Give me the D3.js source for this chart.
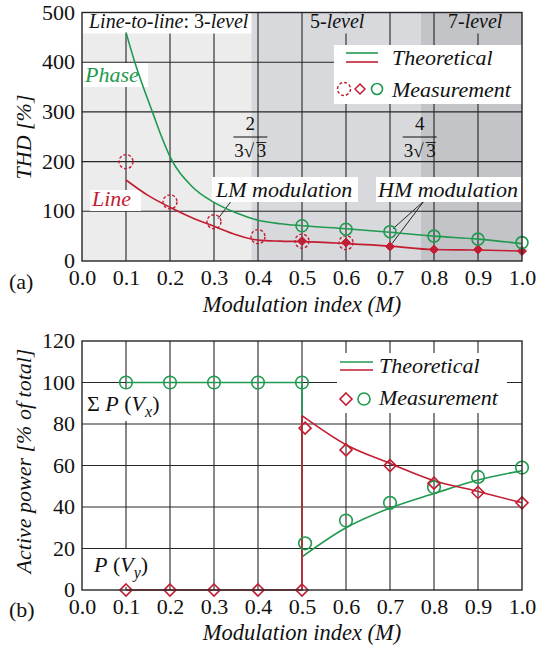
<!DOCTYPE html>
<html>
<head>
<meta charset="UTF-8">
<title>THD and active power vs modulation index</title>
<script src="https://d3js.org/d3.v7.min.js"></script>
<style>
    body { margin: 0; background: #fff; }
    text { font-family: "Liberation Serif", "Times New Roman", serif; fill: #111; }
</style>
</head>
<body>
<script>
// ---- data ----
const mTicks = [0.0, 0.1, 0.2, 0.3, 0.4, 0.5, 0.6, 0.7, 0.8, 0.9, 1.0];

// (a) THD [%]
const thdTicks = [0, 100, 200, 300, 400, 500];
const phaseTheoryM = [0.1, 0.12, 0.14, 0.16, 0.18, 0.2, 0.25, 0.3, 0.35, 0.4, 0.45, 0.5, 0.6, 0.7, 0.8, 0.9, 1.0];
const phaseTheory  = [460, 400, 348, 300, 252, 210, 150, 118, 97, 82, 75, 71, 65, 58, 50, 44, 35];
const lineTheoryM  = [0.1, 0.15, 0.2, 0.25, 0.3, 0.35, 0.4, 0.45, 0.5, 0.6, 0.7, 0.8, 0.9, 1.0];
const lineTheory   = [163, 132, 108, 87, 70, 53, 42, 40, 39, 35, 30, 23, 22, 20];
const lineMeasLM_M = [0.1, 0.2, 0.3, 0.4, 0.5, 0.6];
const lineMeasLM   = [200, 119, 79, 49, 40, 37];
const lineMeasHM_M = [0.5, 0.6, 0.7, 0.8, 0.9, 1.0];
const lineMeasHM   = [40, 37, 29, 23, 23, 20];
const phaseMeasM   = [0.5, 0.6, 0.7, 0.8, 0.9, 1.0];
const phaseMeas    = [71, 64, 59, 50, 44, 37];
const levelBounds  = [0, 2 / (3 * Math.sqrt(3)), 4 / (3 * Math.sqrt(3)), 1];

// (b) Active power [% of total]
const powTicks = [0, 20, 40, 60, 80, 100, 120];
const pxStepM  = [0.1, 0.2, 0.3, 0.4, 0.5, 0.5];
const pxStep   = [100, 100, 100, 100, 100, 16];
const pyStep   = [0, 0, 0, 0, 0, 84];
const pxCurveM = [0.5, 0.6, 0.7, 0.8, 0.9, 1.0];
const pxCurve  = [16, 30, 39.5, 46.5, 53, 57.5];
const pyCurve  = [84, 70, 61, 52.7, 47.5, 42];
const pMeasM   = [0.1, 0.2, 0.3, 0.4, 0.5, 0.507, 0.6, 0.7, 0.8, 0.9, 1.0];
const pxMeas   = [100, 100, 100, 100, 100, 22.5, 33.5, 42, 49.5, 54.5, 59];
const pyMeas   = [0, 0, 0, 0, 0, 78, 67.5, 60, 51.5, 47, 42];

const GREEN = "#1f9a4f", RED = "#c21d32", GRID = "#262626";
const FONT = '"Liberation Serif", "Times New Roman", serif';

const svg = d3.select("body").append("svg").attr("width", 546).attr("height", 648);

const x = d3.scaleLinear().domain([0, 1]).range([82, 522]);
const yA = d3.scaleLinear().domain([0, 500]).range([261, 12.5]);
const yB = d3.scaleLinear().domain([0, 120]).range([590, 341]);

const zip = (a, b) => a.map((d, i) => [d, b[i]]);
const diamond = (cx, cy, r) => `M${cx},${cy - r}L${cx + r},${cy}L${cx},${cy + r}L${cx - r},${cy}Z`;

function grid(g, y, yt) {
    g.selectAll(".vg").data(mTicks.slice(1, -1)).join("line")
        .attr("x1", d => x(d)).attr("x2", d => x(d))
        .attr("y1", y.range()[1]).attr("y2", y.range()[0])
        .attr("stroke", GRID).attr("stroke-width", 1.1);
    g.selectAll(".hg").data(yt.slice(1, -1)).join("line")
        .attr("x1", x(0)).attr("x2", x(1))
        .attr("y1", d => y(d)).attr("y2", d => y(d))
        .attr("stroke", GRID).attr("stroke-width", 1.1);
}

function axes(g, y, yt, tickBase, title, titleBase, ytitle, ytitleY, panel, panelBase) {
    g.append("g").attr("transform", `translate(0,${y.range()[0]})`)
        .call(d3.axisBottom(x).tickValues(mTicks).tickFormat(d3.format(".1f")).tickSize(0))
        .call(a => a.select(".domain").remove())
        .selectAll("text").style("font-size", "22px").style("fill", "#111")
        .attr("dy", null).attr("y", tickBase - y.range()[0]);
    g.append("g").attr("transform", `translate(${x(0)},0)`)
        .call(d3.axisLeft(y).tickValues(yt).tickSize(0).tickPadding(7))
        .call(a => a.select(".domain").remove())
        .selectAll("text").style("font-size", "22px").style("fill", "#111").attr("dy", "0.3em");
    g.append("rect").attr("x", x(0)).attr("y", y.range()[1])
        .attr("width", x(1) - x(0)).attr("height", y.range()[0] - y.range()[1])
        .attr("fill", "none").attr("stroke", GRID).attr("stroke-width", 1.4);
    g.append("text").attr("x", 302).attr("y", titleBase).attr("text-anchor", "middle")
        .style("font-size", "22.5px").style("font-style", "italic").html(title);
    g.append("text").attr("transform", `translate(31,${ytitleY}) rotate(-90)`)
        .attr("text-anchor", "middle").style("font-size", "22px").style("font-style", "italic").text(ytitle);
    g.append("text").attr("x", 9).attr("y", panelBase).style("font-size", "22px").text(panel);
}

function box(g, x0, y0, w, h, fill) {
    g.append("rect").attr("x", x0).attr("y", y0).attr("width", w).attr("height", h).attr("fill", fill || "#fff");
}

function label(g, xp, yp, size, html, color, italic) {
    return g.append("text").attr("x", xp).attr("y", yp).style("font-size", size + "px")
        .style("font-style", italic ? "italic" : "normal").style("fill", color || "#111").html(html);
}

// ================= (a) =================
const ga = svg.append("g");
const shades = ["#ececec", "#d8d9dd", "#c3c4c8"];
ga.selectAll(".shade").data(shades).join("rect")
    .attr("x", (d, i) => x(levelBounds[i])).attr("width", (d, i) => x(levelBounds[i + 1]) - x(levelBounds[i]))
    .attr("y", yA(500)).attr("height", yA(0) - yA(500)).attr("fill", d => d);
grid(ga, yA, thdTicks);

// level labels
box(ga, x(0), yA(500), x(levelBounds[1]) - x(0), 21);
label(ga, 89, 28, 20, '<tspan font-style="italic">Line-to-line</tspan>: 3-<tspan font-style="italic">level</tspan>');
box(ga, 306, yA(500) + 1, 58, 20, shades[1]);
label(ga, 310, 28, 20, '5-<tspan font-style="italic">level</tspan>');
box(ga, 444, yA(500) + 1, 58, 20, shades[2]);
label(ga, 448, 28, 20, '7-<tspan font-style="italic">level</tspan>');

// fractions at the level boundaries
[["2", levelBounds[1]], ["4", levelBounds[2]]].forEach(([num, m]) => {
    const cx = x(m) - 1;
    label(ga, cx, 130, 19, num).attr("text-anchor", "middle");
    ga.append("line").attr("x1", cx - 17).attr("x2", cx + 17).attr("y1", 137).attr("y2", 137)
        .attr("stroke", "#111").attr("stroke-width", 1);
    label(ga, cx - 16, 157, 19, "3\u221A");
    ga.append("line").attr("x1", cx + 6).attr("x2", cx + 16).attr("y1", 142.5).attr("y2", 142.5)
        .attr("stroke", "#111").attr("stroke-width", 0.9);
    label(ga, cx + 6.5, 157, 19, "3");
});

// text boxes
box(ga, 83, 63, 65, 24);
label(ga, 85, 82, 22, "Phase", GREEN, true);
box(ga, 90, 190, 51, 21);
label(ga, 92, 206, 22, "Line", RED, true);

// leaders
ga.append("line").attr("x1", 232).attr("y1", 200).attr("x2", x(0.3) + 4).attr("y2", yA(lineMeasLM[2]) - 3)
    .attr("stroke", "#111").attr("stroke-width", 0.9);
ga.append("line").attr("x1", 424).attr("y1", 201).attr("x2", x(0.7) + 3).attr("y2", yA(phaseMeas[2]) - 3)
    .attr("stroke", "#111").attr("stroke-width", 0.9);
ga.append("line").attr("x1", 424).attr("y1", 201).attr("x2", x(0.7) + 2).attr("y2", yA(lineMeasHM[2]) - 3)
    .attr("stroke", "#111").attr("stroke-width", 0.9);
box(ga, 212, 177, 146, 25);
label(ga, 216, 197, 22, "LM modulation", null, true);
box(ga, 376, 177, 145, 25);
label(ga, 378, 197, 22, "HM modulation", null, true);

// legend (a)
box(ga, 334, 45, 188, 59);
ga.append("line").attr("x1", 346).attr("x2", 378).attr("y1", 53).attr("y2", 53).attr("stroke", GREEN).attr("stroke-width", 1.6);
ga.append("line").attr("x1", 346).attr("x2", 378).attr("y1", 62).attr("y2", 62).attr("stroke", RED).attr("stroke-width", 1.6);
ga.append("circle").attr("cx", 344).attr("cy", 89).attr("r", 6.5).attr("fill", "none")
    .attr("stroke", RED).attr("stroke-width", 1.4).attr("stroke-dasharray", "3,2");
ga.append("path").attr("d", diamond(360, 89, 5)).attr("fill", "none").attr("stroke", RED).attr("stroke-width", 1.5);
ga.append("circle").attr("cx", 377).attr("cy", 89).attr("r", 5.5).attr("fill", "none").attr("stroke", GREEN).attr("stroke-width", 1.6);
label(ga, 392, 65, 22, "Theoretical", null, true);
label(ga, 392, 97, 22, "Measurement", null, true);

// curves (a)
const lineA = d3.line().x(d => x(d[0])).y(d => yA(d[1])).curve(d3.curveMonotoneX);
ga.append("path").attr("d", lineA(zip(phaseTheoryM, phaseTheory))).attr("fill", "none").attr("stroke", GREEN).attr("stroke-width", 1.6);
ga.append("path").attr("d", lineA(zip(lineTheoryM, lineTheory))).attr("fill", "none").attr("stroke", RED).attr("stroke-width", 1.6);

ga.selectAll(".lm").data(zip(lineMeasLM_M, lineMeasLM)).join("circle")
    .attr("cx", d => x(d[0])).attr("cy", d => yA(d[1])).attr("r", 7)
    .attr("fill", "none").attr("stroke", RED).attr("stroke-width", 1.4).attr("stroke-dasharray", "3,2");
ga.selectAll(".hm").data(zip(lineMeasHM_M, lineMeasHM)).join("path")
    .attr("d", d => diamond(x(d[0]), yA(d[1]), 4.5)).attr("fill", RED).attr("stroke", RED).attr("stroke-width", 1);
ga.selectAll(".pm").data(zip(phaseMeasM, phaseMeas)).join("circle")
    .attr("cx", d => x(d[0])).attr("cy", d => yA(d[1])).attr("r", 6)
    .attr("fill", "none").attr("stroke", GREEN).attr("stroke-width", 1.6);

axes(ga, yA, thdTicks, 285, 'Modulation index (<tspan font-style="italic">M</tspan>)', 312, "THD [%]", 137, "(a)", 289);

// ================= (b) =================
const gb = svg.append("g");
grid(gb, yB, powTicks);

// labels in plot
box(gb, 83, 389, 85, 32);
label(gb, 87, 411, 22, '\u03A3 <tspan font-style="italic">P</tspan> (<tspan font-style="italic">V</tspan><tspan font-style="italic" font-size="16" dy="6">x</tspan><tspan dy="-6">)</tspan>');
box(gb, 87, 549, 68, 38);
label(gb, 94, 572, 22, '<tspan font-style="italic">P</tspan> (<tspan font-style="italic">V</tspan><tspan font-style="italic" font-size="16" dy="6">y</tspan><tspan dy="-6">)</tspan>');

// legend (b)
box(gb, 337, 353, 170, 60);
gb.append("line").attr("x1", 340).attr("x2", 373).attr("y1", 362).attr("y2", 362).attr("stroke", GREEN).attr("stroke-width", 1.6);
gb.append("line").attr("x1", 340).attr("x2", 373).attr("y1", 370).attr("y2", 370).attr("stroke", RED).attr("stroke-width", 1.6);
gb.append("path").attr("d", diamond(346, 399, 6)).attr("fill", "none").attr("stroke", RED).attr("stroke-width", 1.6);
gb.append("circle").attr("cx", 364).attr("cy", 399).attr("r", 6).attr("fill", "none").attr("stroke", GREEN).attr("stroke-width", 1.6);
label(gb, 379, 373, 22, "Theoretical", null, true);
label(gb, 379, 405, 22, "Measurement", null, true);

// curves (b)
const stepB = d3.line().x(d => x(d[0])).y(d => yB(d[1]));
const curveB = d3.line().x(d => x(d[0])).y(d => yB(d[1])).curve(d3.curveMonotoneX);
gb.append("path").attr("d", stepB(zip(pxStepM, pxStep)) + "M" + curveB(zip(pxCurveM, pxCurve)).slice(1))
    .attr("fill", "none").attr("stroke", GREEN).attr("stroke-width", 1.6);
gb.append("path").attr("d", stepB(zip(pxStepM, pyStep)) + "M" + curveB(zip(pxCurveM, pyCurve)).slice(1))
    .attr("fill", "none").attr("stroke", RED).attr("stroke-width", 1.6);

gb.selectAll(".pxm").data(zip(pMeasM, pxMeas)).join("circle")
    .attr("cx", d => x(d[0])).attr("cy", d => yB(d[1])).attr("r", 6.3)
    .attr("fill", "none").attr("stroke", GREEN).attr("stroke-width", 1.6);
gb.selectAll(".pym").data(zip(pMeasM, pyMeas)).join("path")
    .attr("d", d => diamond(x(d[0]), yB(d[1]), 6)).attr("fill", "none").attr("stroke", RED).attr("stroke-width", 1.6);

axes(gb, yB, powTicks, 614, 'Modulation index (<tspan font-style="italic">M</tspan>)', 640, "Active power [% of total]", 461, "(b)", 617);

svg.selectAll("text").style("font-family", FONT);
</script>
</body>
</html>
